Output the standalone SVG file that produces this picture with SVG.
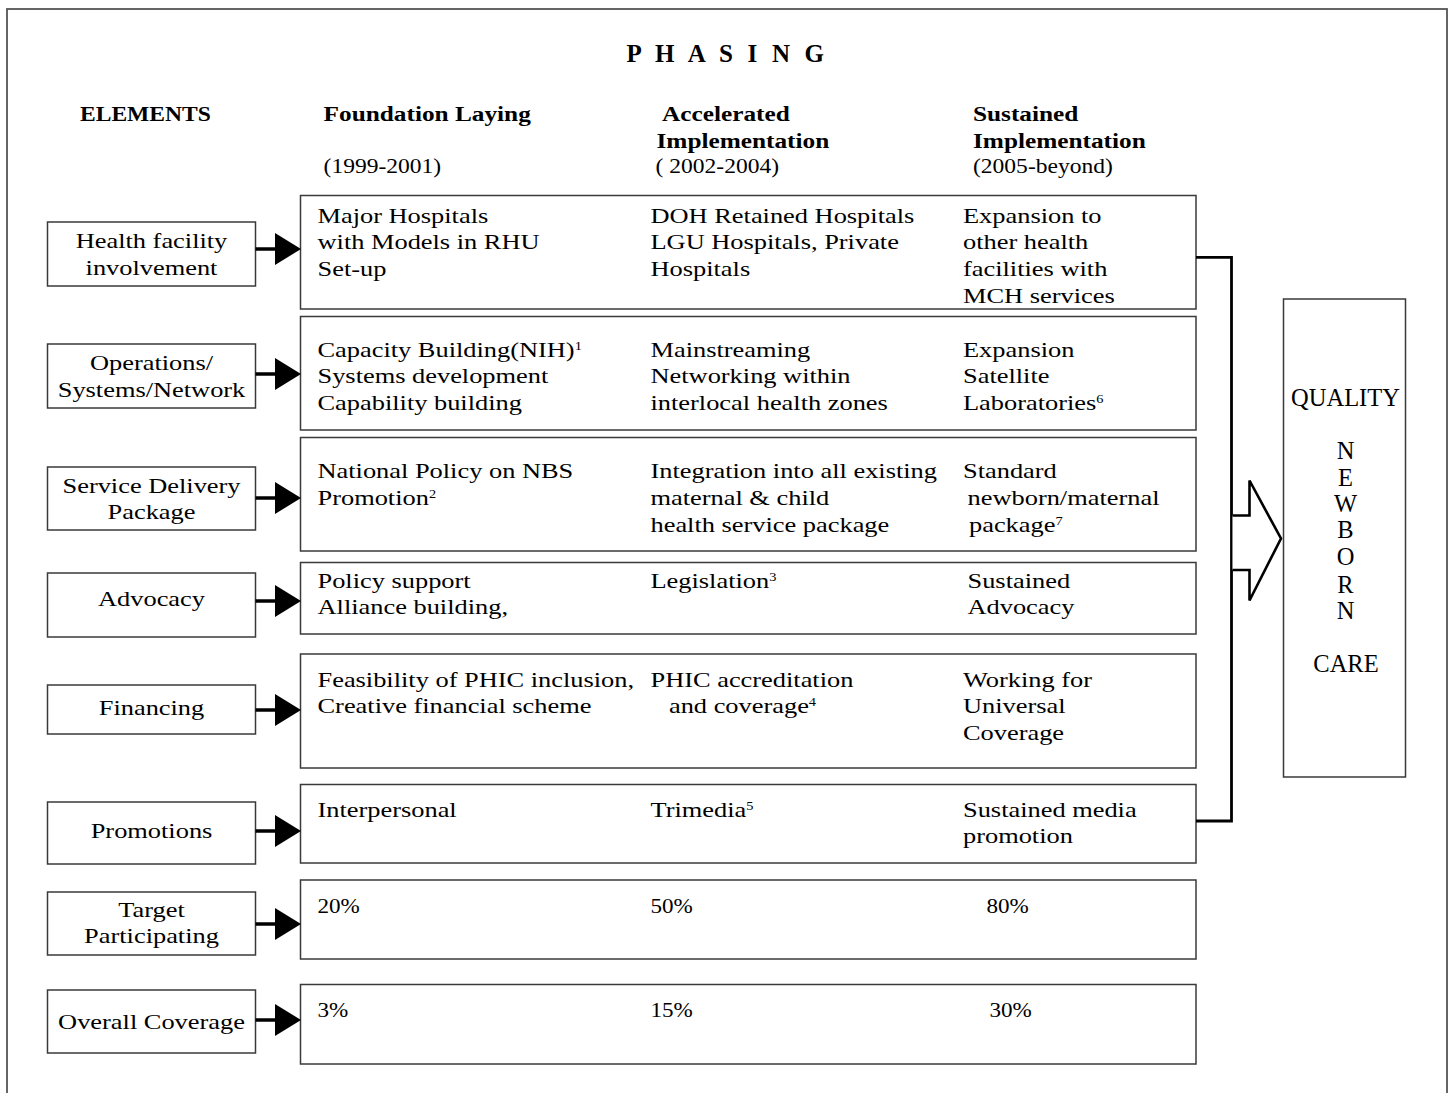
<svg xmlns="http://www.w3.org/2000/svg" width="1450" height="1093" viewBox="0 0 1450 1093">
<style>
.t { font-family: "Liberation Serif", "Times New Roman", serif; font-size: 22px; fill: #000; }
.b { font-weight: bold; }
.q { font-size: 24.5px; text-anchor: middle; }
.m { text-anchor: middle; }
.box { fill: #fff; stroke: #3a3a3a; stroke-width: 1.5; }
.frame { fill: none; stroke: #555; stroke-width: 1.8; }
.conn { stroke: #000; stroke-width: 3.5; fill: none; }
.brk { stroke: #000; stroke-width: 2.8; fill: none; }
.big { stroke: #000; stroke-width: 2.6; fill: #fff; stroke-linejoin: miter; }
.sup { font-size: 12px; }
</style>
<defs>
<marker id="ah" markerUnits="userSpaceOnUse" markerWidth="26" markerHeight="32" viewBox="0 0 26 32" refX="15" refY="16" orient="auto">
<path d="M0,0 L26,16 L0,32 Z" fill="#000"/>
</marker>
</defs>
<rect width="1450" height="1093" fill="#fff"/>
<rect class="frame" x="7" y="9" width="1440" height="1110"/>

<g id="header">
<text class="t b" x="626.4" y="61.7" style="font-size:25px;letter-spacing:4.2px">P H A S I N G</text>
<text class="t b" transform="translate(80 121) scale(1.07 1)">ELEMENTS</text>
<text class="t b" transform="translate(323.6 121) scale(1.15 1)">Foundation Laying</text>
<text class="t" transform="translate(323.6 173) scale(1.07 1)">(1999-2001)</text>
<text class="t b" transform="translate(662 121) scale(1.15 1)">Accelerated</text>
<text class="t b" transform="translate(656.5 148) scale(1.15 1)">Implementation</text>
<text class="t" transform="translate(655.6 173) scale(1.07 1)">( 2002-2004)</text>
<text class="t b" transform="translate(973 121) scale(1.15 1)">Sustained</text>
<text class="t b" transform="translate(973 148) scale(1.15 1)">Implementation</text>
<text class="t" transform="translate(973 173) scale(1.07 1)">(2005-beyond)</text>
</g>

<g id="el-health">
<rect class="box" x="47.5" y="222" width="208" height="64"/>
<text class="t m" transform="translate(151.5 248.3) scale(1.2 1)"><tspan x="0" y="0">Health facility</tspan><tspan x="0" y="26.7">involvement</tspan></text>
</g>
<g id="el-operations">
<rect class="box" x="47.5" y="344" width="208" height="64"/>
<text class="t m" transform="translate(151.5 370) scale(1.2 1)"><tspan x="0" y="0">Operations/</tspan><tspan x="0" y="26.7">Systems/Network</tspan></text>
</g>
<g id="el-service">
<rect class="box" x="47.5" y="467" width="208" height="63"/>
<text class="t m" transform="translate(151.5 492.5) scale(1.2 1)"><tspan x="0" y="0">Service Delivery</tspan><tspan x="0" y="26.2">Package</tspan></text>
</g>
<g id="el-advocacy">
<rect class="box" x="47.5" y="573" width="208" height="64"/>
<text class="t m" transform="translate(151.5 606) scale(1.2 1)">Advocacy</text>
</g>
<g id="el-financing">
<rect class="box" x="47.5" y="685" width="208" height="49"/>
<text class="t m" transform="translate(151.5 715) scale(1.2 1)">Financing</text>
</g>
<g id="el-promotions">
<rect class="box" x="47.5" y="802" width="208" height="62"/>
<text class="t m" transform="translate(151.5 838.3) scale(1.2 1)">Promotions</text>
</g>
<g id="el-target">
<rect class="box" x="47.5" y="892" width="208" height="63"/>
<text class="t m" transform="translate(151.5 916.7) scale(1.2 1)"><tspan x="0" y="0">Target</tspan><tspan x="0" y="26.6">Participating</tspan></text>
</g>
<g id="el-coverage">
<rect class="box" x="47.5" y="990" width="208" height="63"/>
<text class="t m" transform="translate(151.5 1029.3) scale(1.2 1)">Overall Coverage</text>
</g>

<g id="row-health">
<rect class="box" x="300.5" y="195.5" width="895.5" height="113.5"/>
<text class="t" transform="translate(317.5 222.7) scale(1.2 1)"><tspan x="0" y="0">Major Hospitals</tspan><tspan x="0" y="26.7">with Models in RHU</tspan><tspan x="0" y="53.3">Set-up</tspan></text>
<text class="t" transform="translate(650.5 222.7) scale(1.2 1)"><tspan x="0" y="0">DOH Retained Hospitals</tspan><tspan x="0" y="26.7">LGU Hospitals, Private</tspan><tspan x="0" y="53.3">Hospitals</tspan></text>
<text class="t" transform="translate(963 222.7) scale(1.2 1)"><tspan x="0" y="0">Expansion to</tspan><tspan x="0" y="26.7">other health</tspan><tspan x="0" y="53.3">facilities with</tspan><tspan x="0" y="80">MCH services</tspan></text>
</g>
<g id="row-operations">
<rect class="box" x="300.5" y="316.5" width="895.5" height="113.5"/>
<text class="t" transform="translate(317.5 356.7) scale(1.2 1)"><tspan x="0" y="0">Capacity Building(NIH)<tspan class="sup" dy="-7">1</tspan></tspan><tspan x="0" y="26.7">Systems development</tspan><tspan x="0" y="53.3">Capability building</tspan></text>
<text class="t" transform="translate(650.5 356.7) scale(1.2 1)"><tspan x="0" y="0">Mainstreaming</tspan><tspan x="0" y="26.7">Networking within</tspan><tspan x="0" y="53.3">interlocal health zones</tspan></text>
<text class="t" transform="translate(963 356.7) scale(1.2 1)"><tspan x="0" y="0">Expansion</tspan><tspan x="0" y="26.7">Satellite</tspan><tspan x="0" y="53.3">Laboratories<tspan class="sup" dy="-7">6</tspan></tspan></text>
</g>
<g id="row-service">
<rect class="box" x="300.5" y="437.5" width="895.5" height="113.5"/>
<text class="t" transform="translate(317.5 478.3) scale(1.2 1)"><tspan x="0" y="0">National Policy on NBS</tspan><tspan x="0" y="26.7">Promotion<tspan class="sup" dy="-7">2</tspan></tspan></text>
<text class="t" transform="translate(650.5 478.3) scale(1.2 1)"><tspan x="0" y="0">Integration into all existing</tspan><tspan x="0" y="26.7">maternal &amp; child</tspan><tspan x="0" y="53.3">health service package</tspan></text>
<text class="t" transform="translate(963 478.3) scale(1.2 1)"><tspan x="0" y="0">Standard</tspan><tspan x="3.8" y="26.7">newborn/maternal</tspan><tspan x="5" y="53.3">package<tspan class="sup" dy="-7">7</tspan></tspan></text>
</g>
<g id="row-advocacy">
<rect class="box" x="300.5" y="562.5" width="895.5" height="71.5"/>
<text class="t" transform="translate(317.5 588.3) scale(1.2 1)"><tspan x="0" y="0">Policy support</tspan><tspan x="0" y="25.7">Alliance building,</tspan></text>
<text class="t" transform="translate(650.5 588.3) scale(1.2 1)">Legislation<tspan class="sup" dy="-7">3</tspan></text>
<text class="t" transform="translate(967.5 588.3) scale(1.2 1)"><tspan x="0" y="0">Sustained</tspan><tspan x="0" y="25.7">Advocacy</tspan></text>
</g>
<g id="row-financing">
<rect class="box" x="300.5" y="654" width="895.5" height="114"/>
<text class="t" transform="translate(317.5 686.7) scale(1.2 1)"><tspan x="0" y="0">Feasibility of PHIC inclusion,</tspan><tspan x="0" y="26.7">Creative financial scheme</tspan></text>
<text class="t" transform="translate(650.5 686.7) scale(1.2 1)"><tspan x="0" y="0">PHIC accreditation</tspan><tspan x="15.4" y="26.7">and coverage<tspan class="sup" dy="-7">4</tspan></tspan></text>
<text class="t" transform="translate(963 686.7) scale(1.2 1)"><tspan x="0" y="0">Working for</tspan><tspan x="0" y="26.7">Universal</tspan><tspan x="0" y="53.3">Coverage</tspan></text>
</g>
<g id="row-promotions">
<rect class="box" x="300.5" y="784.5" width="895.5" height="78.5"/>
<text class="t" transform="translate(317.5 816.7) scale(1.2 1)">Interpersonal</text>
<text class="t" transform="translate(650.5 816.7) scale(1.2 1)">Trimedia<tspan class="sup" dy="-7">5</tspan></text>
<text class="t" transform="translate(963 816.7) scale(1.2 1)"><tspan x="0" y="0">Sustained media</tspan><tspan x="0" y="26.7">promotion</tspan></text>
</g>
<g id="row-target">
<rect class="box" x="300.5" y="880" width="895.5" height="79"/>
<text class="t" transform="translate(317.5 913.3) scale(1.05 1)">20%</text>
<text class="t" transform="translate(650.5 913.3) scale(1.05 1)">50%</text>
<text class="t" transform="translate(986.5 913.3) scale(1.05 1)">80%</text>
</g>
<g id="row-coverage">
<rect class="box" x="300.5" y="984.5" width="895.5" height="79.5"/>
<text class="t" transform="translate(317.5 1016.7) scale(1.05 1)">3%</text>
<text class="t" transform="translate(650.5 1016.7) scale(1.05 1)">15%</text>
<text class="t" transform="translate(989.4 1016.7) scale(1.05 1)">30%</text>
</g>

<g id="quality">
<rect class="box" x="1283.5" y="299" width="122" height="478"/>
<text class="t q" x="1345.5" y="405.7">QUALITY</text>
<text class="t q" x="1345.5" y="459.3">N</text>
<text class="t q" x="1345.5" y="485.5">E</text>
<text class="t q" x="1345.5" y="511.7">W</text>
<text class="t q" x="1345.5" y="538.3">B</text>
<text class="t q" x="1345.5" y="565">O</text>
<text class="t q" x="1345.5" y="592.5">R</text>
<text class="t q" x="1345.5" y="619.3">N</text>
<text class="t q" x="1346" y="671.7">CARE</text>
</g>

<g id="connectors">
<line class="conn" x1="255.5" y1="249" x2="290" y2="249" marker-end="url(#ah)"/>
<line class="conn" x1="255.5" y1="374" x2="290" y2="374" marker-end="url(#ah)"/>
<line class="conn" x1="255.5" y1="498" x2="290" y2="498" marker-end="url(#ah)"/>
<line class="conn" x1="255.5" y1="601" x2="290" y2="601" marker-end="url(#ah)"/>
<line class="conn" x1="255.5" y1="710" x2="290" y2="710" marker-end="url(#ah)"/>
<line class="conn" x1="255.5" y1="831" x2="290" y2="831" marker-end="url(#ah)"/>
<line class="conn" x1="255.5" y1="924" x2="290" y2="924" marker-end="url(#ah)"/>
<line class="conn" x1="255.5" y1="1020" x2="290" y2="1020" marker-end="url(#ah)"/>
<path class="brk" d="M1196,257.3 H1231.5 V821 H1196"/>
<path class="big" d="M1232.5,515.5 H1249.5 V480.5 L1281,538.5 L1249.5,600.5 V570 H1232.5"/>
</g>
</svg>
